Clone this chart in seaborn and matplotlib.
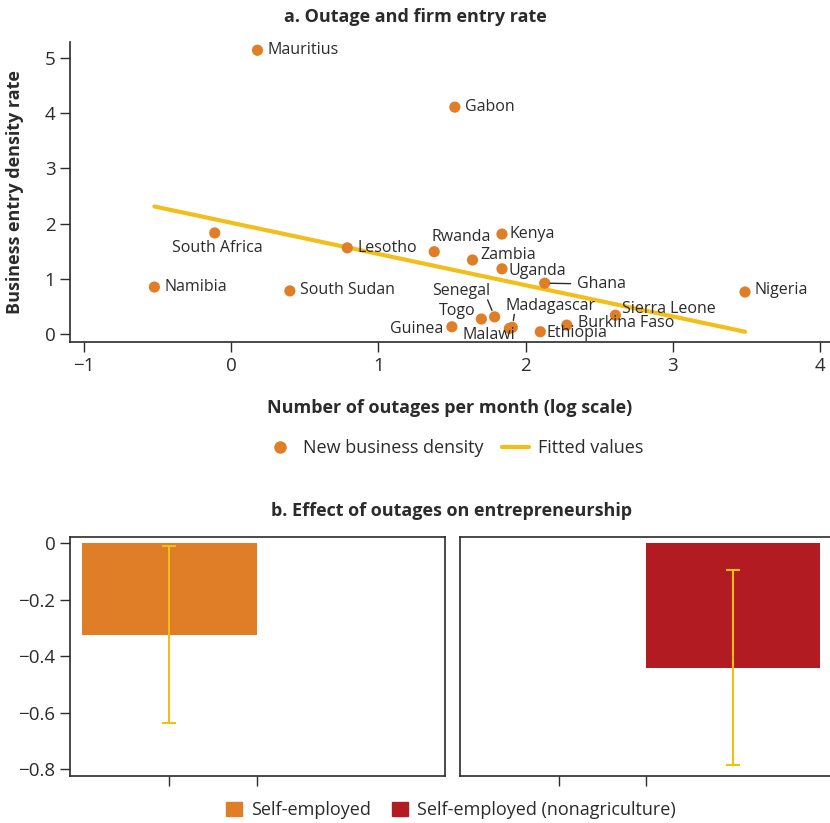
import numpy as np
import pandas as pd
import matplotlib
matplotlib.use("Agg")
import matplotlib.pyplot as plt
import seaborn as sns
from matplotlib import font_manager
from matplotlib.lines import Line2D
from matplotlib.patches import Patch

# === Data: panel a ===
countries = ["Mauritius", "Gabon", "South Africa", "Lesotho", "Namibia", "South Sudan",
             "Rwanda", "Kenya", "Zambia", "Uganda", "Ghana", "Nigeria", "Sierra Leone",
             "Burkina Faso", "Ethiopia", "Malawi", "Madagascar", "Senegal", "Togo", "Guinea"]
outages_log = [0.18, 1.52, -0.11, 0.79, -0.52, 0.40,
               1.38, 1.84, 1.64, 1.84, 2.13, 3.49, 2.61,
               2.28, 2.10, 1.89, 1.91, 1.79, 1.70, 1.50]
entry_rate = [5.14, 4.11, 1.83, 1.56, 0.85, 0.78,
              1.49, 1.81, 1.34, 1.18, 0.92, 0.76, 0.34,
              0.16, 0.04, 0.10, 0.12, 0.31, 0.27, 0.13]
fit_x = [-0.52, 3.49]
fit_y = [2.31, 0.04]

# === Data: panel b ===
groups = ["Self-employed", "Self-employed (nonagriculture)"]
effects = [-0.324, -0.441]
ci_low = [-0.636, -0.786]
ci_high = [-0.010, -0.096]

# label offsets in pixels (dx, dy), alignment, leader line
label_style = {
    "Mauritius": (10, 0, "left", False), "Gabon": (10, 0, "left", False),
    "South Africa": (3, -15, "center", False), "Lesotho": (10, 0, "left", False),
    "Namibia": (10, 0, "left", False), "South Sudan": (10, 1, "left", False),
    "Rwanda": (27, 15, "center", False), "Kenya": (8, 0, "left", False),
    "Zambia": (8, 5, "left", False), "Uganda": (7, -2, "left", False),
    "Ghana": (32, -1, "left", True), "Nigeria": (9, 2, "left", False),
    "Sierra Leone": (7, 6, "left", False), "Burkina Faso": (11, 2, "left", False),
    "Ethiopia": (6, -1, "left", False), "Malawi": (-20, -7, "center", False),
    "Madagascar": (38, 21, "center", False), "Senegal": (-33, 26, "center", False),
    "Togo": (-24, 8, "center", False), "Guinea": (-9, -2, "right", False),
}
# short leader segments (pixel offsets from the point: start, end)
leaders = {
    "Madagascar": ((1, 4), (2, 13)),
    "Senegal": ((1, 4), (-7, 17)),
}

ORANGE = "#E07E27"
RED = "#B31B22"
YELLOW = "#F2BE1A"
DARK = "#2B2B2B"

sns.set_style("white")
names = {f.name for f in font_manager.fontManager.ttflist}
main_font = "Liberation Sans Narrow" if "Liberation Sans Narrow" in names else "Open Sans"
plt.rcParams["font.family"] = [main_font, "DejaVu Sans"]
plt.rcParams["text.color"] = DARK
plt.rcParams["axes.labelcolor"] = DARK
plt.rcParams["xtick.color"] = DARK
plt.rcParams["ytick.color"] = DARK

fig = plt.figure(figsize=(8.3, 8.23), dpi=100)

# === Panel a ===
ax = fig.add_axes([0.0843, 0.5845, 0.9157, 0.3645])
df = pd.DataFrame({"country": countries, "x": outages_log, "y": entry_rate})
sns.lineplot(x=fit_x, y=fit_y, color=YELLOW, linewidth=3, ax=ax, zorder=2)
sns.scatterplot(data=df, x="x", y="y", color=ORANGE, s=65, edgecolor="none", ax=ax, zorder=3)

for c, x, y in zip(countries, outages_log, entry_rate):
    dx, dy, ha, leader = label_style[c]
    arrow = dict(arrowstyle="-", color=DARK, lw=1, shrinkA=2, shrinkB=4) if leader else None
    ax.annotate(c, (x, y), xytext=(dx, dy), textcoords="offset pixels",
                ha=ha, va="center", fontsize=11.5, color=DARK, arrowprops=arrow, zorder=4)
    if c in leaders:
        (x0, y0), (x1, y1) = leaders[c]
        ax.annotate("", (x, y), xytext=(x1, y1), textcoords="offset pixels",
                    arrowprops=dict(arrowstyle="-", color=DARK, lw=1, shrinkA=0, shrinkB=5))

ax.set_xlim(-1.093, 4.067)
ax.set_ylim(-0.145, 5.29)
ax.set_xticks(range(-1, 5))
ax.set_yticks(range(0, 6))
ax.set_xticklabels([str(v).replace("-", "\u2212") for v in range(-1, 5)])
ax.tick_params(direction="out", length=7, width=1, labelsize=13.5, left=True, bottom=True)
for s in ["top", "right"]:
    ax.spines[s].set_visible(False)
for s in ["left", "bottom"]:
    ax.spines[s].set_color(DARK)
    ax.spines[s].set_linewidth(1.2)
ax.set_xlabel("Number of outages per month (log scale)", fontsize=13, fontweight="bold")
ax.set_ylabel("Business entry density rate", fontsize=13, fontweight="bold")
ax.xaxis.set_label_coords(0.5, -0.19)
ax.yaxis.set_label_coords(-0.06, 0.5)

fig.text(415 / 830, 1 - 17 / 823, "a. Outage and firm entry rate", ha="center", va="center",
         fontsize=13, fontweight="bold")

handles_a = [Line2D([], [], marker="o", linestyle="none", color=ORANGE, markersize=8),
             Line2D([], [], color=YELLOW, linewidth=3)]
fig.legend(handles_a, ["New business density", "Fitted values"], loc="center",
           bbox_to_anchor=(455 / 830, 1 - 448 / 823), ncol=2, frameon=False,
           fontsize=13, handlelength=1.5, columnspacing=1.0, handletextpad=0.5)

# === Panel b ===
fig.text(451 / 830, 1 - 511 / 823, "b. Effect of outages on entrepreneurship", ha="center",
         va="center", fontsize=13, fontweight="bold")

colors = [ORANGE, RED]
positions = [1, 3]
axes_b = [fig.add_axes([0.0843, 0.0575, 0.4518, 0.29]),
          fig.add_axes([0.5542, 0.0575, 0.47, 0.29])]
for i, axb in enumerate(axes_b):
    sns.barplot(x=[positions[i]], y=[effects[i]], native_scale=True, width=2,
                color=colors[i], saturation=1, linewidth=0, ax=axb)
    axb.errorbar([positions[i]], [effects[i]],
                 yerr=[[effects[i] - ci_low[i]], [ci_high[i] - effects[i]]],
                 fmt="none", ecolor=YELLOW, elinewidth=1.5, capsize=5, capthick=1.5, zorder=4)
    axb.set_xlim(-0.14, 4.16 if i == 0 else 4.35)
    axb.set_ylim(-0.823, 0.021)
    axb.set_xticks([1, 2])
    axb.set_xticklabels(["", ""])
    axb.set_xlabel("")
    axb.set_ylabel("")
    for s in axb.spines.values():
        s.set_visible(True)
        s.set_color(DARK)
        s.set_linewidth(1.2)
    axb.tick_params(axis="x", direction="out", length=7, width=1, bottom=True)
    if i == 0:
        axb.set_yticks([0, -0.2, -0.4, -0.6, -0.8])
        axb.set_yticklabels(["0", "\u22120.2", "\u22120.4", "\u22120.6", "\u22120.8"])
        axb.tick_params(axis="y", direction="out", length=7, width=1, labelsize=13.5, left=True)
    else:
        axb.set_yticks([])
        axb.spines["right"].set_visible(False)

handles_b = [Patch(color=ORANGE), Patch(color=RED)]
fig.legend(handles_b, groups, loc="center", bbox_to_anchor=(451 / 830, 1 - 810 / 823),
           ncol=2, frameon=False, fontsize=13, handlelength=0.85, handleheight=0.85,
           columnspacing=1.2, handletextpad=0.5)

fig.savefig("out.png", dpi=100)
